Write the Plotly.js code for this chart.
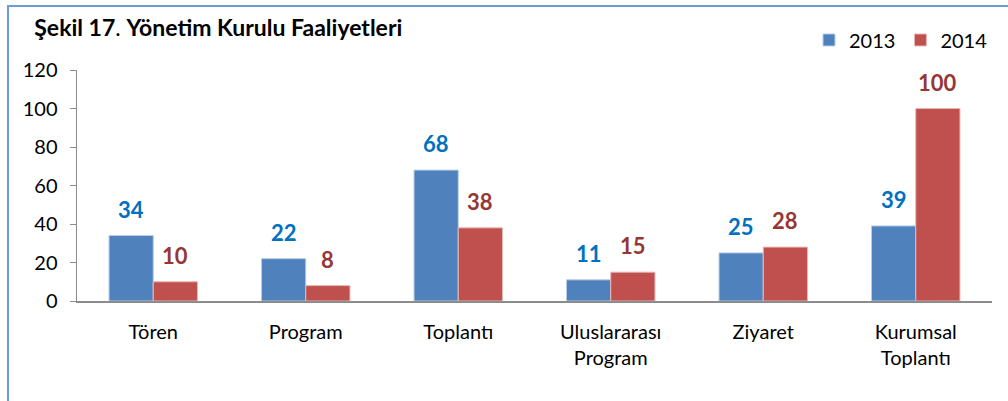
<!DOCTYPE html>
<html>
<head>
<meta charset="utf-8">
<script src="https://cdn.plot.ly/plotly-3.0.1.min.js"></script>
<style>
html,body{margin:0;padding:0;background:#fff;overflow:hidden;}
#frame{position:absolute;left:7px;top:5px;width:1100px;height:500px;border-left:2px solid #6E9BD4;border-top:2px solid #6E9BD4;box-sizing:border-box;pointer-events:none;z-index:5;}
#chart{position:absolute;left:0;top:0;width:1008px;height:401px;}
</style>
</head>
<body>
<div id="chart"></div>
<div id="frame"></div>
<script>
var categories = ["Tören", "Program", "Toplantı", "Uluslararası<br>Program", "Ziyaret", "Kurumsal<br>Toplantı"];
var values2013 = [34, 22, 68, 11, 25, 39];
var values2014 = [10, 8, 38, 15, 28, 100];
var yTicks = [0, 20, 40, 60, 80, 100, 120];

var FONT = "Lato, 'Open Sans', sans-serif";
var blue = "#4F81BD", red = "#C0504D";
var blueLbl = "#0070C0", redLbl = "#953735";

var traces = [
  {type: "bar", name: "2013", x: categories, y: values2013, marker: {color: blue, line: {color: "#B9CDE5", width: 1}}, hoverinfo: "y"},
  {type: "bar", name: "2014", x: categories, y: values2014, marker: {color: red, line: {color: "#E6B9B8", width: 1}}, hoverinfo: "y"}
];

var annotations = [];
categories.forEach(function(c, i) {
  annotations.push({x: c, y: values2013[i], xref: "x", yref: "y", text: "<b>" + values2013[i] + "</b>", showarrow: false,
    xshift: -22, yanchor: "bottom", yshift: 11, font: {family: FONT, size: 22, color: blueLbl}});
  annotations.push({x: c, y: values2014[i], xref: "x", yref: "y", text: "<b>" + values2014[i] + "</b>", showarrow: false,
    xshift: 22, yanchor: "bottom", yshift: 11, font: {family: FONT, size: 22, color: redLbl}});
});

var layout = {
  width: 1008, height: 401,
  margin: {l: 77, r: 16, t: 70, b: 100, autoexpand: false},
  paper_bgcolor: "#fff", plot_bgcolor: "#fff",
  font: {family: FONT, size: 20, color: "#000"},
  title: {text: "<b>Şekil 17</b>. <b>Yönetim Kurulu Faaliyetleri</b>", x: 0.034, xanchor: "left", y: 0.93, yanchor: "middle",
    font: {family: FONT, size: 23, color: "#000"}},
  barmode: "group", bargap: 0.42, bargroupgap: 0,
  showlegend: true,
  legend: {orientation: "h", x: 0.8, xanchor: "left", y: 1.13, yanchor: "middle", font: {family: FONT, size: 20}, itemwidth: 30, tracegroupgap: 0},
  xaxis: {type: "category", showline: true, linecolor: "#8C8C8C", linewidth: 1.5, ticks: "", showgrid: false, zeroline: false,
    ticklabelstandoff: 12, tickfont: {family: FONT, size: 20, color: "#000"}, fixedrange: true},
  yaxis: {range: [0, 120], tickvals: yTicks, showline: true, linecolor: "#8C8C8C", linewidth: 1.5, ticks: "outside", ticklen: 6,
    tickcolor: "#8C8C8C", showgrid: false, zeroline: false, ticklabelstandoff: 8, tickfont: {family: FONT, size: 20, color: "#000"}, fixedrange: true},
  annotations: annotations
};

Plotly.newPlot("chart", traces, layout, {displayModeBar: false, staticPlot: true});
</script>
</body>
</html>
